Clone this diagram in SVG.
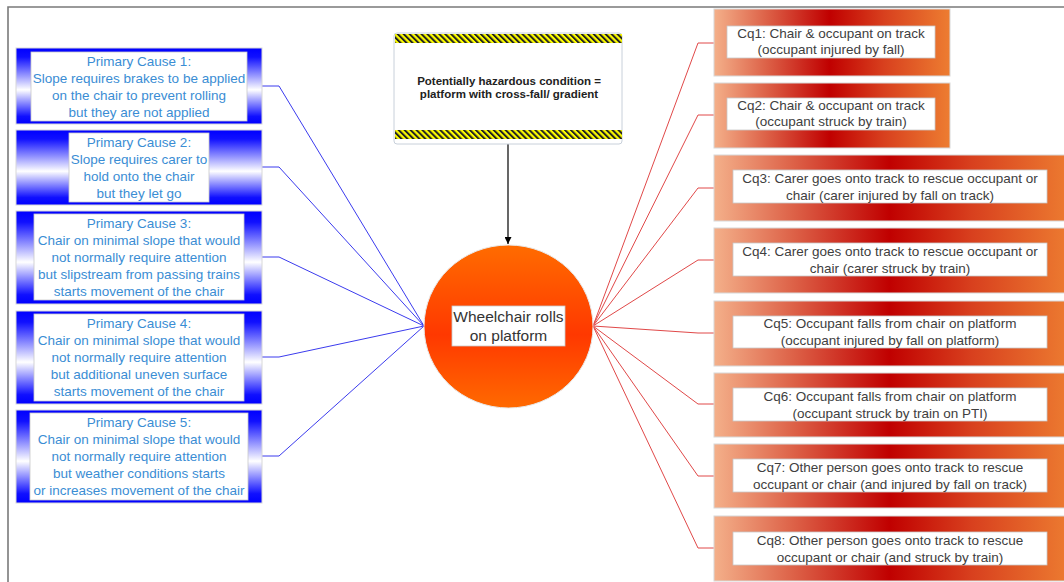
<svg xmlns="http://www.w3.org/2000/svg" width="1064" height="582" viewBox="0 0 1064 582">
<defs>
<linearGradient id="blueG" x1="0" y1="0" x2="0" y2="1">
<stop offset="0" stop-color="#0000FF"/>
<stop offset="0.12" stop-color="#1010FF"/>
<stop offset="0.55" stop-color="#FFFFFF"/>
<stop offset="0.9" stop-color="#1010FF"/>
<stop offset="1" stop-color="#0000FF"/>
</linearGradient>
<linearGradient id="redG" x1="0" y1="0" x2="1" y2="0">
<stop offset="0" stop-color="#F4B08A"/>
<stop offset="0.22" stop-color="#DD6248"/>
<stop offset="0.49" stop-color="#C00000"/>
<stop offset="0.72" stop-color="#D8401E"/>
<stop offset="1" stop-color="#ED7D31"/>
</linearGradient>
<linearGradient id="circG" x1="0" y1="0" x2="0" y2="1">
<stop offset="0" stop-color="#FF6C00"/>
<stop offset="0.55" stop-color="#FF3800"/>
<stop offset="1" stop-color="#FF6A00"/>
</linearGradient>
<pattern id="hatch" width="4.2" height="4.2" patternUnits="userSpaceOnUse" patternTransform="rotate(-45)">
<rect width="4.2" height="4.2" fill="#FFFF00"/>
<rect width="2" height="4.2" fill="#222"/>
</pattern>
<marker id="arr" viewBox="0 0 10 10" refX="10" refY="5" markerWidth="7" markerHeight="7" orient="auto" markerUnits="userSpaceOnUse">
<path d="M0,0 L10,5 L0,10 z" fill="#000"/>
</marker>
<style>
.outer{stroke:#D8D8D8;stroke-width:1}
.inner{fill:#FFFFFF;stroke:#C8C8C8;stroke-width:0.8}
.bt{font-family:"Liberation Sans",Arial,sans-serif;font-size:13.5px;fill:#3A8DD4;text-anchor:middle}
.rt{font-family:"Liberation Sans",Arial,sans-serif;font-size:13.5px;fill:#404040;text-anchor:middle}
.bl{fill:none;stroke:#3B3BEE;stroke-width:1}
.rl{fill:none;stroke:#E04848;stroke-width:1}
</style>
</defs>
<rect width="1064" height="582" fill="#FFFFFF"/>
<path d="M8,582 L8,7 L1064,7" fill="none" stroke="#7A7A7A" stroke-width="1.6"/>

<g id="connectors">
<path class="bl" d="M262,86 L279,86 L424,326"/>
<path class="bl" d="M262,167 L279,167 L424,326"/>
<path class="bl" d="M262,257 L279,257 L424,326"/>
<path class="bl" d="M262,357 L279,357 L424,326"/>
<path class="bl" d="M262,456 L279,456 L424,326"/>
<path class="rl" d="M593,326 L698,43 L714,43"/>
<path class="rl" d="M593,326 L698,115 L714,115"/>
<path class="rl" d="M593,326 L698,188 L714,188"/>
<path class="rl" d="M593,326 L698,260 L714,260"/>
<path class="rl" d="M593,326 L698,333 L714,333"/>
<path class="rl" d="M593,326 L698,404 L714,404"/>
<path class="rl" d="M593,326 L698,476 L714,476"/>
<path class="rl" d="M593,326 L698,548 L714,548"/>
<line x1="508" y1="140" x2="508" y2="244" stroke="#000" stroke-width="1.2" marker-end="url(#arr)"/>
</g>

<g id="cause1">
<rect class="outer" x="16" y="48" width="246" height="76" fill="url(#blueG)"/>
<rect class="inner" x="31" y="52" width="216" height="69"/>
<text class="bt"><tspan x="139" y="65.5">Primary Cause 1:</tspan><tspan x="139" y="82.5">Slope requires brakes to be applied</tspan><tspan x="139" y="99.5">on the chair to prevent rolling</tspan><tspan x="139" y="116.5">but they are not applied</tspan></text>
</g>
<g id="cause2">
<rect class="outer" x="16" y="130" width="246" height="75" fill="url(#blueG)"/>
<rect class="inner" x="69" y="133" width="140" height="69"/>
<text class="bt"><tspan x="139" y="146.5">Primary Cause 2:</tspan><tspan x="139" y="163.5">Slope requires carer to</tspan><tspan x="139" y="180.5">hold onto the chair</tspan><tspan x="139" y="197.5">but they let go</tspan></text>
</g>
<g id="cause3">
<rect class="outer" x="16" y="211" width="246" height="93" fill="url(#blueG)"/>
<rect class="inner" x="34" y="214" width="210" height="86"/>
<text class="bt"><tspan x="139" y="227.5">Primary Cause 3:</tspan><tspan x="139" y="244.5">Chair on minimal slope that would</tspan><tspan x="139" y="261.5">not normally require attention</tspan><tspan x="139" y="278.5">but slipstream from passing trains</tspan><tspan x="139" y="295.5">starts movement of the chair</tspan></text>
</g>
<g id="cause4">
<rect class="outer" x="16" y="311" width="246" height="93" fill="url(#blueG)"/>
<rect class="inner" x="34" y="314" width="210" height="87"/>
<text class="bt"><tspan x="139" y="327.5">Primary Cause 4:</tspan><tspan x="139" y="344.5">Chair on minimal slope that would</tspan><tspan x="139" y="361.5">not normally require attention</tspan><tspan x="139" y="378.5">but additional uneven surface</tspan><tspan x="139" y="395.5">starts movement of the chair</tspan></text>
</g>
<g id="cause5">
<rect class="outer" x="16" y="410" width="246" height="93" fill="url(#blueG)"/>
<rect class="inner" x="30" y="413" width="218" height="87"/>
<text class="bt"><tspan x="139" y="426.5">Primary Cause 5:</tspan><tspan x="139" y="443.5">Chair on minimal slope that would</tspan><tspan x="139" y="460.5">not normally require attention</tspan><tspan x="139" y="477.5">but weather conditions starts</tspan><tspan x="139" y="494.5">or increases movement of the chair</tspan></text>
</g>

<g id="hazard">
<rect x="394" y="33" width="228" height="111" rx="3" fill="#FFFFFF" stroke="#C8D0DA" stroke-width="1"/>
<rect x="395" y="34" width="227" height="9" fill="url(#hatch)"/>
<rect x="395" y="130" width="227" height="9" fill="url(#hatch)"/>
<text font-family="'Liberation Sans',Arial,sans-serif" font-size="11.5" font-weight="bold" fill="#222" text-anchor="middle"><tspan x="509" y="85">Potentially hazardous condition =</tspan><tspan x="509" y="98">platform with cross-fall/ gradient</tspan></text>
</g>

<g id="event">
<ellipse cx="508.5" cy="326.5" rx="84.5" ry="81.5" fill="url(#circG)" stroke="#E8E8E8" stroke-width="1"/>
<rect x="452" y="306" width="113" height="40" fill="#FFFFFF" stroke="#C8C8C8" stroke-width="0.8"/>
<text font-family="'Liberation Sans',Arial,sans-serif" font-size="15.5" fill="#333333" text-anchor="middle"><tspan x="508.5" y="321.5">Wheelchair rolls</tspan><tspan x="508.5" y="340.5">on platform</tspan></text>
</g>

<g id="cq1">
<rect class="outer" x="714" y="9" width="236" height="67" fill="url(#redG)"/>
<rect class="inner" x="727" y="26" width="208" height="32"/>
<text class="rt"><tspan x="831" y="38">Cq1: Chair &amp; occupant on track</tspan><tspan x="831" y="54">(occupant injured by fall)</tspan></text>
</g>
<g id="cq2">
<rect class="outer" x="714" y="83" width="236" height="65" fill="url(#redG)"/>
<rect class="inner" x="727" y="98" width="208" height="32"/>
<text class="rt"><tspan x="831" y="110">Cq2: Chair &amp; occupant on track</tspan><tspan x="831" y="126">(occupant struck by train)</tspan></text>
</g>
<g id="cq3">
<rect class="outer" x="714" y="155" width="358" height="66" fill="url(#redG)"/>
<rect class="inner" x="733" y="170" width="314" height="33"/>
<text class="rt"><tspan x="890" y="182.5">Cq3: Carer goes onto track to rescue occupant or</tspan><tspan x="890" y="199.5">chair (carer injured by fall on track)</tspan></text>
</g>
<g id="cq4">
<rect class="outer" x="714" y="228" width="358" height="65" fill="url(#redG)"/>
<rect class="inner" x="733" y="243" width="314" height="33"/>
<text class="rt"><tspan x="890" y="255.5">Cq4: Carer goes onto track to rescue occupant or</tspan><tspan x="890" y="272.5">chair (carer struck by train)</tspan></text>
</g>
<g id="cq5">
<rect class="outer" x="714" y="301" width="358" height="65" fill="url(#redG)"/>
<rect class="inner" x="733" y="316" width="314" height="32"/>
<text class="rt"><tspan x="890" y="328">Cq5: Occupant falls from chair on platform</tspan><tspan x="890" y="345">(occupant injured by fall on platform)</tspan></text>
</g>
<g id="cq6">
<rect class="outer" x="714" y="373" width="358" height="64" fill="url(#redG)"/>
<rect class="inner" x="733" y="388" width="314" height="33"/>
<text class="rt"><tspan x="890" y="400.5">Cq6: Occupant falls from chair on platform</tspan><tspan x="890" y="417.5">(occupant struck by train on PTI)</tspan></text>
</g>
<g id="cq7">
<rect class="outer" x="714" y="444" width="358" height="64" fill="url(#redG)"/>
<rect class="inner" x="733" y="459" width="314" height="33"/>
<text class="rt"><tspan x="890" y="471.5">Cq7: Other person goes onto track to rescue</tspan><tspan x="890" y="488.5">occupant or chair (and injured by fall on track)</tspan></text>
</g>
<g id="cq8">
<rect class="outer" x="714" y="516" width="358" height="65" fill="url(#redG)"/>
<rect class="inner" x="733" y="532" width="314" height="33"/>
<text class="rt"><tspan x="890" y="544.5">Cq8: Other person goes onto track to rescue</tspan><tspan x="890" y="561.5">occupant or chair (and struck by train)</tspan></text>
</g>
</svg>
